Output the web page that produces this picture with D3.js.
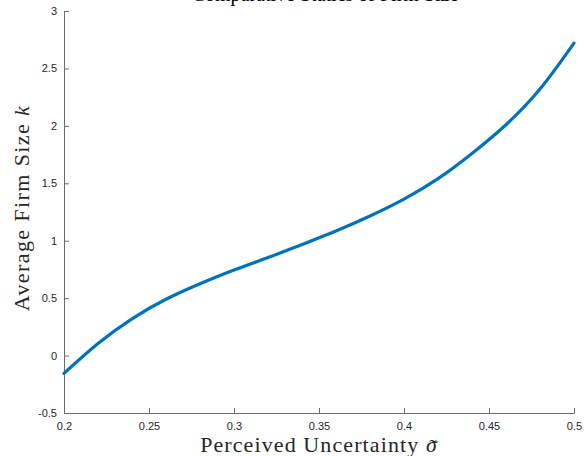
<!DOCTYPE html>
<html>
<head>
<meta charset="utf-8">
<script src="https://cdn.jsdelivr.net/npm/d3@7"></script>
<style>
  html, body { margin: 0; padding: 0; background: #fff; }
  svg { display: block; }
</style>
</head>
<body>
<svg id="chart" width="584" height="456"></svg>
<script>
// Perceived uncertainty (sigma tilde) grid
const sigma = [0.20, 0.22, 0.24, 0.26, 0.28, 0.30, 0.32, 0.34,
               0.36, 0.38, 0.40, 0.42, 0.44, 0.46, 0.48, 0.50];
// Average firm size k at each sigma
const firmSize = [-0.155, 0.105, 0.320, 0.490, 0.625, 0.745, 0.853, 0.968,
                  1.085, 1.215, 1.362, 1.540, 1.760, 2.010, 2.320, 2.720];
const xTicks = [0.2, 0.25, 0.3, 0.35, 0.4, 0.45, 0.5];
const yTicks = [-0.5, 0, 0.5, 1, 1.5, 2, 2.5, 3];

const svg = d3.select("#chart");
const plot = { left: 64, right: 574, top: 11, bottom: 413 };

const x = d3.scaleLinear().domain([0.2, 0.5]).range([plot.left, plot.right]);
const y = d3.scaleLinear().domain([-0.5, 3]).range([plot.bottom, plot.top]);

const axisColor = "#6b6b6b";
const tickFont = "'Liberation Sans', Arial, Helvetica, sans-serif";
const serif = "'Liberation Serif', 'Times New Roman', serif";
const fmt = d => String(d);   // plain hyphen-minus, e.g. "-0.5"

// Title (sits mostly above the visible area)
svg.append("text")
  .attr("x", 325).attr("y", 1)
  .attr("text-anchor", "middle")
  .attr("font-family", serif)
  .attr("font-size", 20)
  .attr("fill", "#000")
  .text("Comparative Statics of Firm Size");

// X axis
const xAxis = svg.append("g")
  .attr("transform", `translate(0,${plot.bottom})`)
  .call(d3.axisBottom(x).tickValues(xTicks).tickSizeInner(-5).tickSizeOuter(0)
    .tickPadding(9).tickFormat(fmt));
xAxis.select(".domain").attr("stroke", axisColor);
xAxis.selectAll(".tick line").attr("stroke", axisColor);
xAxis.selectAll(".tick text")
  .attr("font-family", tickFont).attr("font-size", 11).attr("fill", "#262626");

// Y axis
const yAxis = svg.append("g")
  .attr("transform", `translate(${plot.left},0)`)
  .call(d3.axisLeft(y).tickValues(yTicks).tickSizeInner(-5).tickSizeOuter(0)
    .tickPadding(7).tickFormat(fmt));
yAxis.select(".domain").attr("stroke", axisColor);
yAxis.selectAll(".tick line").attr("stroke", axisColor);
yAxis.selectAll(".tick text")
  .attr("font-family", tickFont).attr("font-size", 11).attr("fill", "#262626");

// Curve
const line = d3.line()
  .x((d, i) => x(sigma[i]))
  .y(d => y(d))
  .curve(d3.curveNatural);

svg.append("path")
  .datum(firmSize)
  .attr("d", line)
  .attr("fill", "none")
  .attr("stroke", "#0072BD")
  .attr("stroke-width", 3.2)
  .attr("stroke-linecap", "round");

// X label, with a tilde placed over the sigma
const xLabelText = "Perceived Uncertainty ";
const xLabelY = 452;
const xl = svg.append("text")
  .attr("x", 319).attr("y", xLabelY)
  .attr("text-anchor", "middle")
  .attr("font-family", serif)
  .attr("font-size", 22)
  .attr("letter-spacing", 1.1)
  .attr("fill", "#262626");
xl.append("tspan").text(xLabelText);
xl.append("tspan").attr("font-style", "italic").text("\u03C3");
const sigBox = xl.node().getExtentOfChar(xLabelText.length);
svg.append("text")
  .attr("x", sigBox.x + sigBox.width / 2 + 1)
  .attr("y", xLabelY + 1.5)
  .attr("text-anchor", "middle")
  .attr("font-family", serif)
  .attr("font-size", 22)
  .attr("fill", "#262626")
  .text("\u02DC");

// Y label
const yl = svg.append("text")
  .attr("transform", "translate(29,208) rotate(-90)")
  .attr("text-anchor", "middle")
  .attr("font-family", serif)
  .attr("font-size", 22)
  .attr("letter-spacing", 1.4)
  .attr("fill", "#262626");
yl.append("tspan").text("Average Firm Size ");
yl.append("tspan").attr("font-style", "italic").text("k");
</script>
</body>
</html>
